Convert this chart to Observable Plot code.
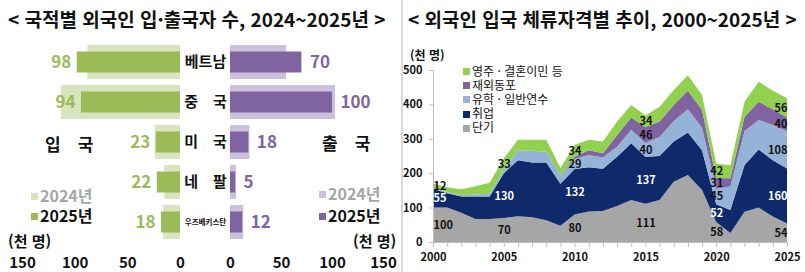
<!DOCTYPE html>
<html lang="ko"><head><meta charset="utf-8">
<script src="https://cdn.jsdelivr.net/npm/d3@7"></script>
<script src="https://cdn.jsdelivr.net/npm/@observablehq/plot@0.6"></script>
<style>
html,body{margin:0;padding:0;background:#fff;}
#root{position:relative;width:805px;height:272px;overflow:hidden;font-family:"Noto Sans CJK KR","Noto Sans",sans-serif;color:#111;}
#root svg{position:absolute;top:0;overflow:visible;}
.t{position:absolute;white-space:nowrap;line-height:1;transform:translateY(-50%);font-weight:bold;}
.sep{position:absolute;left:401px;top:0;width:2px;height:272px;background:#D9D9D9;}
.sw{display:inline-block;width:7px;height:7px;margin-right:2px;vertical-align:middle;position:relative;top:-1px;}
</style></head>
<body><div id="root"></div>
<script>
// ---------- Left panel data (천 명) ----------
const countries = ["베트남", "중　국", "미　국", "네　팔", "우즈베키스탄"];
const entry2024 = [88, 113, 24, 15, 16];
const entry2025 = [98, 94, 23, 22, 18];
const exit2024 = [55, 103, 19, 6, 13];
const exit2025 = [70, 100, 18, 5, 12];
const barTicks = [0, 50, 100, 150];

// ---------- Right panel data (천 명) ----------
const years = [2000,2001,2002,2003,2004,2005,2006,2007,2008,2009,2010,2011,2012,2013,2014,2015,2016,2017,2018,2019,2020,2021,2022,2023,2024,2025];
const shortTerm = [100,100,85,67,67,70,75,72,63,47,80,89,90,105,122,111,122,175,195,151,58,26,88,100,74,54];
const employment = [55,42,47,65,65,130,163,159,168,122,132,128,123,143,165,137,128,117,123,116,52,67,136,169,164,160];
const study = [3,3,4,6,8,10,29,34,31,26,29,36,33,29,39,40,55,60,68,65,45,68,99,86,102,108];
const overseasKorean = [0,0,0,0,0,0,0,0,0,0,7,14,12,34,36,46,45,46,54,52,31,24,41,53,46,40];
const permanent = [12,14,17,24,32,33,30,32,35,20,34,30,34,39,36,34,43,44,45,43,42,38,44,58,54,56];
const seriesNames = ["단기", "취업", "유학 · 일반연수", "재외동포", "영주 · 결혼이민 등"];
const seriesColors = ["#A6A6A6", "#0E2A6B", "#95B3D7", "#8064A2", "#92D050"];
const yTicks = [0, 100, 200, 300, 400, 500];
const labelYears = [2000, 2005, 2010, 2015, 2020, 2025];

const root = document.getElementById("root");
const font = '"Noto Sans CJK KR","Noto Sans",sans-serif';
function txt(html, left, cy, css = "") {
  const d = document.createElement("div");
  d.className = "t";
  d.innerHTML = html;
  d.style.cssText = `left:${left}px;top:${cy}px;` + css;
  root.appendChild(d);
  return d;
}
function place(svg, left) { svg.style.left = left + "px"; root.appendChild(svg); }

// ---------- Left: 입국 / 출국 ----------
const entryRows = countries.map((c, i) => ({country: c, v2024: entry2024[i], v2025: entry2025[i]}));
const exitRows = countries.map((c, i) => ({country: c, v2024: exit2024[i], v2025: exit2025[i]}));
const baseStyle = {background: "transparent", fontFamily: font, color: "#111"};

const entryPlot = Plot.plot({
  width: 232, height: 272, marginLeft: 22, marginRight: 52, marginTop: 40.5, marginBottom: 28.5,
  x: {domain: [0, 150], reverse: true},
  y: {domain: countries, padding: 0, axis: null},
  style: baseStyle,
  marks: [
    Plot.barX(entryRows, {x: "v2024", y: "country", fill: "#D7E4BD", insetTop: 3, insetBottom: 3}),
    Plot.barX(entryRows, {x: "v2025", y: "country", fill: "#9BBB59", insetTop: 9.5, insetBottom: 9.5}),
    Plot.text(entryRows, {x: "v2025", y: "country", text: d => String(d.v2025), textAnchor: "end", dx: -6, fill: "#9BBB59", fontSize: 17, fontWeight: "bold"}),
    Plot.text(countries, {y: d => d, text: d => d, frameAnchor: "right", dx: 25, textAnchor: "middle", fontSize: d => d.length > 3 ? 7.5 : 15, fontWeight: "bold", fill: "#111"}),
    Plot.axisX({ticks: barTicks, tickSize: 0, tickPadding: 13, fontSize: 15, fontWeight: "bold", label: null})
  ]
});
place(entryPlot, 0);

const exitPlot = Plot.plot({
  width: 200, height: 272, marginLeft: 30, marginRight: 17, marginTop: 40.5, marginBottom: 28.5,
  x: {domain: [0, 150]},
  y: {domain: countries, padding: 0, axis: null},
  style: baseStyle,
  marks: [
    Plot.barX(exitRows, {x: "v2024", y: "country", fill: "#CCC1DA", insetTop: 3, insetBottom: 3}),
    Plot.barX(exitRows, {x: "v2025", y: "country", fill: "#8064A2", insetTop: 9.5, insetBottom: 9.5}),
    Plot.text(exitRows, {x: "v2025", y: "country", text: d => String(d.v2025), textAnchor: "start", dx: 8, fill: "#8064A2", fontSize: 17, fontWeight: "bold"}),
    Plot.axisX({ticks: barTicks, tickSize: 0, tickPadding: 13, fontSize: 15, fontWeight: "bold", label: null})
  ]
});
place(exitPlot, 200);

// ---------- Right: stacked area ----------
const seriesValues = [shortTerm, employment, study, overseasKorean, permanent];
const areaData = seriesNames.flatMap((s, i) => years.map((y, j) => ({year: y, series: s, value: seriesValues[i][j]})));

const labelGroups = [[[labelYears[0]], "start"], [labelYears.slice(1, -1), "middle"], [[labelYears[labelYears.length - 1]], "end"]];
const labelMarks = [];
for (const [ys, anchor] of labelGroups) {
  for (const white of [true, false]) {
    labelMarks.push(Plot.text(areaData.filter(d => ys.includes(d.year)), Plot.stackY({
      x: "year", y: "value", z: "series",
      text: d => ((d.series === seriesNames[1]) === white && d.value > 10) ? String(d.value) : null,
      textAnchor: anchor, fill: white ? "#fff" : "#111", fontSize: 11, fontWeight: "bold"
    })));
  }
}

const areaPlot = Plot.plot({
  width: 403, height: 272, marginLeft: 31, marginRight: 18, marginTop: 70, marginBottom: 30,
  x: {domain: [years[0], years[years.length - 1]]},
  y: {domain: [0, 500]},
  color: {domain: seriesNames, range: seriesColors},
  style: baseStyle,
  marks: [
    Plot.areaY(areaData, {x: "year", y: "value", z: "series", fill: "series"}),
    ...labelMarks,
    Plot.ruleX([years[0]], {stroke: "#BFBFBF"}),
    Plot.ruleY([0], {stroke: "#BFBFBF"}),
    Plot.axisY({ticks: yTicks, tickSize: 4, tickPadding: 7, fontSize: 11, fontWeight: "bold", stroke: "#BFBFBF", label: null}),
    Plot.axisX({ticks: years, tickSize: 5, tickPadding: 6, fontSize: 11, fontWeight: "bold", stroke: "#BFBFBF", tickFormat: d => d % 5 === 0 ? String(d) : "", label: null})
  ]
});
place(areaPlot, 402);

// ---------- Separator, titles, legends ----------
const sep = document.createElement("div"); sep.className = "sep"; root.appendChild(sep);

txt("&lt; 국적별 외국인 입·출국자 수, 2024~2025년 &gt;", 8, 18, "font-size:19px;");
txt("&lt; 외국인 입국 체류자격별 추이, 2000~2025년 &gt;", 408, 18, "font-size:19px;");

txt("입　국", 45, 143, "font-size:17px;");
txt("출　국", 322, 142, "font-size:17px;");

txt(`<span class="sw" style="background:#D7E4BD"></span><span style="color:#A6A6A6">2024년</span>`, 31, 195, "font-size:16px;");
txt(`<span class="sw" style="background:#9BBB59"></span>2025년`, 31, 215, "font-size:16px;");
txt(`<span class="sw" style="background:#CCC1DA"></span><span style="color:#A6A6A6">2024년</span>`, 319, 193, "font-size:16px;");
txt(`<span class="sw" style="background:#8064A2"></span>2025년`, 319, 215, "font-size:16px;");

txt("(천 명)", 8, 240, "font-size:15px;");
txt("(천 명)", 353, 240, "font-size:15px;");
txt("(천 명)", 410, 55, "font-size:12px;");

// right legend, top series first
seriesNames.slice().reverse().forEach((s, i) => {
  const c = seriesColors[seriesNames.indexOf(s)];
  txt(`<span class="sw" style="background:${c}"></span>${s}`, 463, 71 + i * 14.1, "font-size:12px;font-weight:normal;");
});
</script></body></html>
